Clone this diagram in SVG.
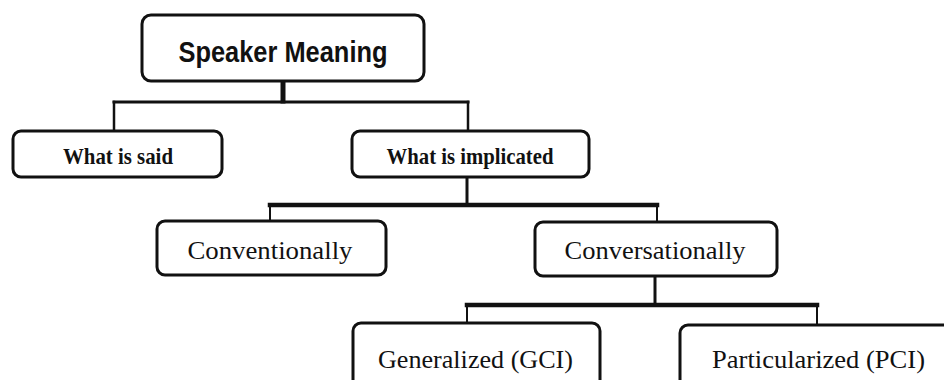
<svg xmlns="http://www.w3.org/2000/svg" width="944" height="380" viewBox="0 0 944 380">
<style>
.box{fill:#fff;stroke:#111;stroke-width:3}
.ln{stroke:#111;fill:none;stroke-linecap:square}
.t1{font-family:"Liberation Sans",Arial,sans-serif;font-weight:bold;font-size:30px;fill:#111;text-anchor:middle}
.t2{font-family:"Liberation Serif","Times New Roman",serif;font-weight:bold;font-size:23px;fill:#111;text-anchor:middle}
.t3{font-family:"Liberation Serif","Times New Roman",serif;font-size:26px;fill:#111;text-anchor:middle}
</style>
<rect width="944" height="380" fill="#fff"/>
<g id="connectors">
<line class="ln" x1="283" y1="81" x2="283" y2="101" stroke-width="5"/>
<line class="ln" x1="114" y1="102" x2="468" y2="102" stroke-width="3"/>
<line class="ln" x1="114" y1="102" x2="114" y2="130" stroke-width="2.5"/>
<line class="ln" x1="468" y1="102" x2="468" y2="130" stroke-width="2.5"/>
<line class="ln" x1="467" y1="177" x2="467" y2="204" stroke-width="3"/>
<line class="ln" x1="270" y1="205" x2="657" y2="205" stroke-width="4.5"/>
<line class="ln" x1="270" y1="205" x2="270" y2="220" stroke-width="2"/>
<line class="ln" x1="657" y1="205" x2="657" y2="221" stroke-width="2"/>
<line class="ln" x1="655" y1="276" x2="655" y2="304" stroke-width="3"/>
<line class="ln" x1="467" y1="305" x2="817" y2="305" stroke-width="4.5"/>
<line class="ln" x1="467" y1="305" x2="467" y2="322" stroke-width="2"/>
<line class="ln" x1="817" y1="305" x2="817" y2="324" stroke-width="2"/>
</g>
<g id="speaker-meaning">
<rect class="box" x="142" y="15" width="282" height="66" rx="9" stroke-width="3.5"/>
<text class="t1" x="283" y="62" textLength="209" lengthAdjust="spacingAndGlyphs">Speaker Meaning</text>
</g>
<g id="what-is-said">
<rect class="box" x="13" y="131" width="209" height="46" rx="8"/>
<text class="t2" x="118" y="164" textLength="110" lengthAdjust="spacingAndGlyphs">What is said</text>
</g>
<g id="what-is-implicated">
<rect class="box" x="352" y="131" width="237" height="46" rx="8"/>
<text class="t2" x="470" y="164" textLength="167" lengthAdjust="spacingAndGlyphs">What is implicated</text>
</g>
<g id="conventionally">
<rect class="box" x="157" y="221" width="229" height="54" rx="8"/>
<text class="t3" x="270" y="259" textLength="165" lengthAdjust="spacingAndGlyphs">Conventionally</text>
</g>
<g id="conversationally">
<rect class="box" x="535" y="222" width="242" height="54" rx="8"/>
<text class="t3" x="655" y="259" textLength="181" lengthAdjust="spacingAndGlyphs">Conversationally</text>
</g>
<g id="generalized">
<rect class="box" x="353" y="323" width="247" height="72" rx="8"/>
<text class="t3" x="475.5" y="368" textLength="195" lengthAdjust="spacingAndGlyphs">Generalized (GCI)</text>
</g>
<g id="particularized">
<rect class="box" x="680" y="325" width="290" height="72" rx="8"/>
<text class="t3" x="818.5" y="368" textLength="213" lengthAdjust="spacingAndGlyphs">Particularized (PCI)</text>
</g>
</svg>
